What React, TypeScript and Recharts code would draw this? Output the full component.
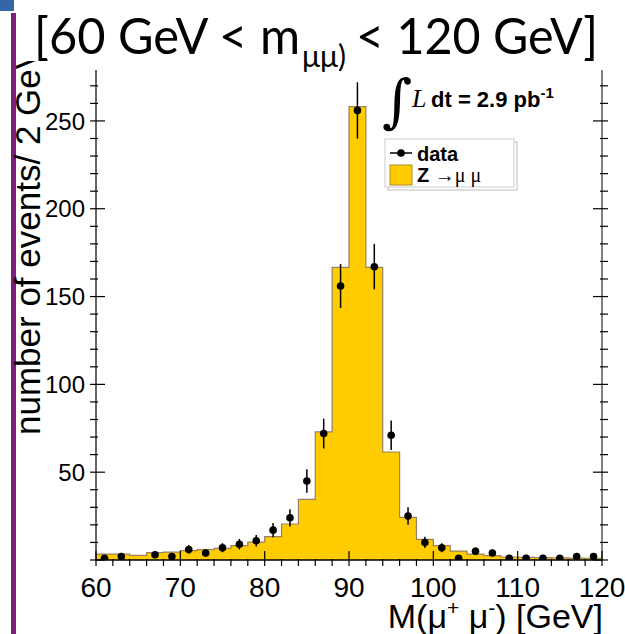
import React from 'react';
import { ComposedChart, Area, Scatter, XAxis, YAxis, ErrorBar } from 'recharts';

// 2 GeV bins between 60 and 120 GeV
const binLowEdges = [60, 62, 64, 66, 68, 70, 72, 74, 76, 78, 80, 82, 84, 86, 88, 90, 92, 94, 96, 98, 100, 102, 104, 106, 108, 110, 112, 114, 116, 118];
const binCenters = [61, 63, 65, 67, 69, 71, 73, 75, 77, 79, 81, 83, 85, 87, 89, 91, 93, 95, 97, 99, 101, 103, 105, 107, 109, 111, 113, 115, 117, 119];

// Z -> mu mu simulation (filled histogram)
const mcCounts = [3.4, 3.4, 2.6, 4.2, 4.5, 5.3, 5.9, 6.6, 8.2, 10.2, 13.3, 20.5, 34.5, 73, 166.6, 258.2, 166.6, 61.5, 24.3, 11.8, 8.2, 5.1, 3.4, 2.5, 1.7, 1.5, 1.3, 1.2, 1.1, 1.0];

// observed events and their errors
const dataCounts = [1, 2, 0, 3, 2, 6, 4, 7, 9, 11, 17, 24, 45, 72, 156, 256, 167, 71, 25, 10, 7, 1, 5, 4, 1, 1, 1, 1, 2, 2];
const dataErrors = [1, 1.4, 0, 1.7, 1.4, 2.4, 2, 2.6, 3, 3.3, 4.1, 4.9, 6.7, 8.5, 12.5, 16, 12.9, 8.4, 5, 3.2, 2.6, 1, 2.2, 2, 1, 1, 1, 1, 1.4, 1.4];

const xTicks = [60, 62, 64, 66, 68, 70, 72, 74, 76, 78, 80, 82, 84, 86, 88, 90, 92, 94, 96, 98, 100, 102, 104, 106, 108, 110, 112, 114, 116, 118, 120];
const yTicks = [0, 10, 20, 30, 40, 50, 60, 70, 80, 90, 100, 110, 120, 130, 140, 150, 160, 170, 180, 190, 200, 210, 220, 230, 240, 250, 260, 270];

const histData = [
  ...binLowEdges.map((x, i) => ({ x, mc: mcCounts[i] })),
  { x: 120, mc: mcCounts[mcCounts.length - 1] },
];

const pointData = binCenters
  .map((x, i) => ({ x, y: dataCounts[i], err: dataErrors[i] }))
  .filter((p) => p.y > 0);

const SANS = '"Liberation Sans", Arial, Helvetica, sans-serif';
const SERIF = '"Liberation Serif", "DejaVu Serif", serif';
const TITLE_FONT = "Lato, 'Open Sans', sans-serif";
const YELLOW = '#FFCC00';
const HIST_LINE = '#9A8162';

const XTick = ({ x, y, payload }: any) => {
  const v = payload.value;
  const major = v % 10 === 0;
  return (
    <g>
      <line x1={x} x2={x} y1={y} y2={y - (major ? 15 : 7)} stroke="#000" strokeWidth={1.2} />
      {major && (
        <text x={x} y={y + 31} textAnchor="middle" fontSize={28} fontFamily={SANS} fill="#000">
          {v}
        </text>
      )}
    </g>
  );
};

const YTickLeft = ({ x, y, payload }: any) => {
  const v = payload.value;
  const major = v % 50 === 0;
  return (
    <g>
      <line x1={x} x2={x + (major ? 15 : 8)} y1={y} y2={y} stroke="#000" strokeWidth={1.2} />
      {major && v > 0 && (
        <text x={x - 5} y={y} dy="0.36em" textAnchor="end" fontSize={24} fontFamily={SANS} fill="#000">
          {v}
        </text>
      )}
    </g>
  );
};

const YTickRight = ({ x, y, payload }: any) => {
  const major = payload.value % 50 === 0;
  return <line x1={x} x2={x - (major ? 15 : 8)} y1={y} y2={y} stroke="#000" strokeWidth={1.2} />;
};

const Dot = ({ cx, cy }: any) => <circle cx={cx} cy={cy} r={3.8} fill="#000" />;

export default function App() {
  return (
    <div style={{ position: 'absolute', left: 0, top: 0, width: 625, height: 634, background: '#fff', overflow: 'hidden' }}>
      <ComposedChart width={625} height={634} margin={{ top: 70, right: 0, bottom: 0, left: 0 }}>
        <Area
          data={histData}
          dataKey="mc"
          type="stepAfter"
          baseValue={0}
          fill={YELLOW}
          fillOpacity={1}
          stroke={HIST_LINE}
          strokeWidth={1.2}
          isAnimationActive={false}
          dot={false}
          activeDot={false}
        />
        <Scatter data={pointData} dataKey="y" shape={<Dot />} isAnimationActive={false}>
          <ErrorBar dataKey="err" direction="y" width={0} stroke="#000" strokeWidth={1.5} />
        </Scatter>
        <XAxis
          dataKey="x"
          type="number"
          domain={[60, 120]}
          ticks={xTicks}
          interval={0}
          tickLine={false}
          tickMargin={0}
          height={74}
          axisLine={{ stroke: '#000', strokeWidth: 1.5 }}
          tick={<XTick />}
          allowDataOverflow
        />
        <YAxis
          type="number"
          domain={[0, 279]}
          ticks={yTicks}
          interval={0}
          tickLine={false}
          tickMargin={0}
          width={96}
          axisLine={{ stroke: '#333', strokeWidth: 1.5 }}
          tick={<YTickLeft />}
          allowDataOverflow
        />
        <YAxis
          yAxisId="r"
          orientation="right"
          type="number"
          domain={[0, 279]}
          ticks={yTicks}
          interval={0}
          tickLine={false}
          tickMargin={0}
          width={23}
          axisLine={{ stroke: '#808080', strokeWidth: 2 }}
          tick={<YTickRight />}
          allowDataOverflow
        />
      </ComposedChart>

      <svg width={625} height={634} style={{ position: 'absolute', left: 0, top: 0, pointerEvents: 'none' }}>
        <defs>
          <clipPath id="ytitle-clip">
            <rect x={0} y={61} width={90} height={573} />
          </clipPath>
        </defs>

        {/* slide decorations */}
        <rect x={0} y={0} width={14} height={11} fill="#3465A4" />
        <rect x={11} y={13} width={5} height={621} fill="#7A1F7E" />

        {/* title */}
        <text x={34} y={54} fontSize={51} fontFamily={TITLE_FONT} fill="#000" textLength={266} lengthAdjust="spacingAndGlyphs">
          [60 GeV &lt; m
        </text>
        <text x={302} y={67} fontSize={30} fontFamily={TITLE_FONT} fill="#000" textLength={44} lengthAdjust="spacingAndGlyphs">
          μμ)
        </text>
        <text x={356} y={54} fontSize={51} fontFamily={TITLE_FONT} fill="#000" textLength={242} lengthAdjust="spacingAndGlyphs">
          &lt; 120 GeV]
        </text>

        {/* y-axis title */}
        <g clipPath="url(#ytitle-clip)">
          <text transform="translate(40,435) rotate(-90)" fontSize={35} fontFamily={SANS} fill="#000">
            number of events/ 2 GeV
          </text>
        </g>

        {/* x-axis title */}
        <text x={603} y={628} textAnchor="end" fontSize={34} fontFamily={SANS} fill="#000">
          M(μ<tspan dy={-13} fontSize={21}>+</tspan>
          <tspan dy={13}> μ</tspan>
          <tspan dy={-13} fontSize={21}>-</tspan>
          <tspan dy={13}>) [GeV]</tspan>
        </text>

        {/* luminosity */}
        <text x={382} y={121} fontSize={58} fontFamily="'DejaVu Serif', serif" fill="#000">∫</text>
        <text x={412} y={107} fontSize={26} fontStyle="italic" fontFamily={SERIF} fill="#000">L</text>
        <text x={431} y={107} fontSize={22} fontWeight="bold" fontFamily={SANS} fill="#000">
          dt = 2.9 pb<tspan dy={-9} fontSize={15}>-1</tspan>
        </text>

        {/* legend */}
        <rect x={388} y={142} width={129} height={48} fill="#fff" stroke="#bbb" strokeWidth={1} />
        <rect x={385} y={139} width={129} height={48} fill="#fff" stroke="#ccc" strokeWidth={1} />
        <line x1={390} x2={412} y1={153} y2={153} stroke="#000" strokeWidth={1.5} />
        <circle cx={401} cy={153} r={3.8} fill="#000" />
        <text x={417} y={161} fontSize={20} fontWeight="bold" fontFamily={SANS} fill="#000">data</text>
        <rect x={390} y={165} width={22} height={20} fill={YELLOW} stroke="#B08A2E" strokeWidth={1} />
        <text x={417} y={182} fontSize={20} fontWeight="bold" fontFamily={SANS} fill="#000">
          Z <tspan fontWeight="normal" fontFamily={SERIF}>→μ μ</tspan>
        </text>
      </svg>
    </div>
  );
}
